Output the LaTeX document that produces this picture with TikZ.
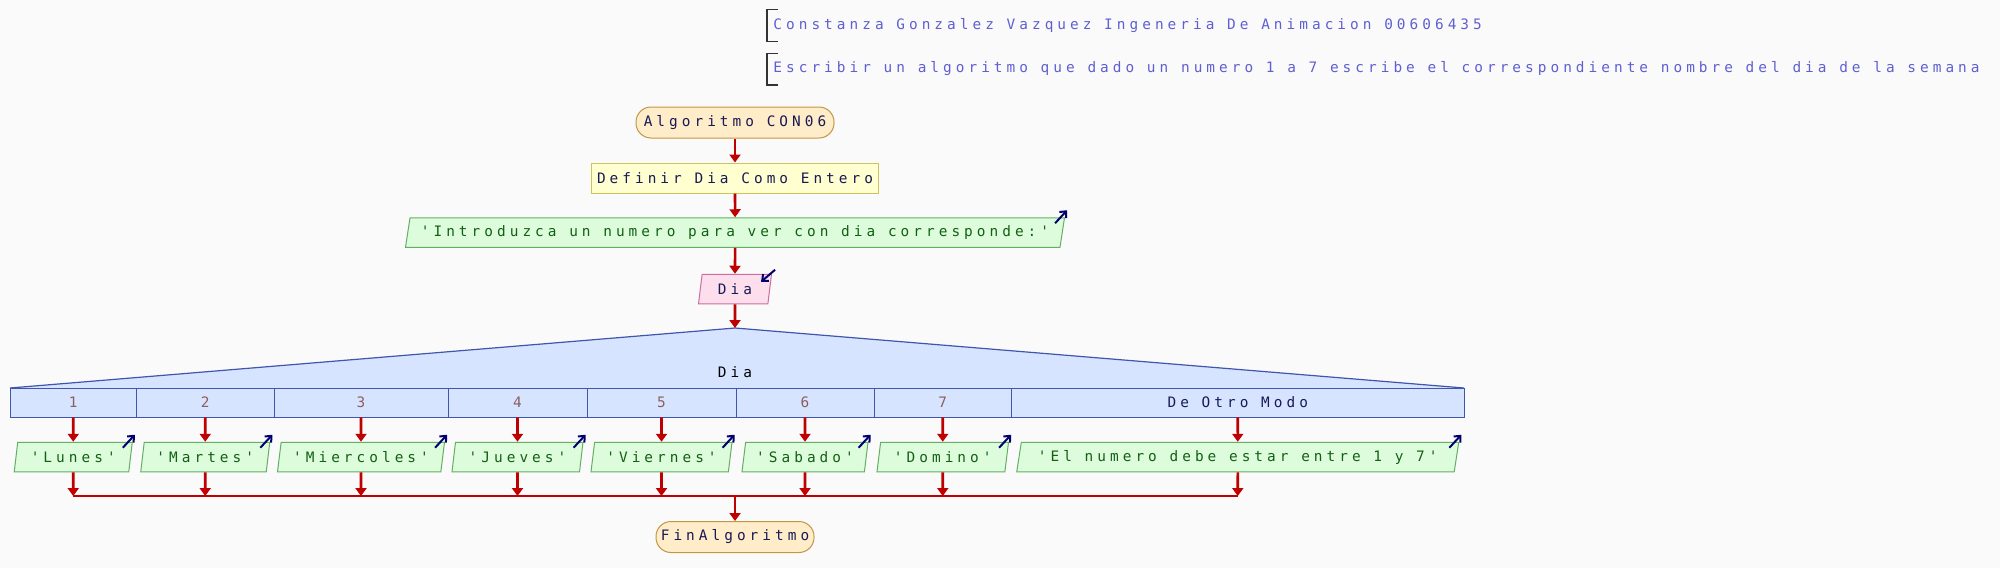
\documentclass[tikz,border=0pt]{standalone}
\usepackage{fontspec}
\newfontfamily\psfont[LetterSpace=28,Ligatures=TeXOff]{DejaVu Sans Mono}
\usetikzlibrary{shapes.geometric,arrows.meta}
\definecolor{fondo}{RGB}{250,250,250}
\definecolor{tinta}{RGB}{25,25,85}
\definecolor{rojo}{RGB}{190,0,0}
\definecolor{marino}{RGB}{0,0,110}
\definecolor{rellenoini}{RGB}{255,236,200}
\definecolor{bordeini}{RGB}{195,150,70}
\definecolor{rellenodef}{RGB}{255,255,208}
\definecolor{bordedef}{RGB}{205,195,95}
\definecolor{rellenosal}{RGB}{220,252,220}
\definecolor{bordesal}{RGB}{100,175,100}
\definecolor{textosal}{RGB}{20,95,20}
\definecolor{rellenoent}{RGB}{252,222,236}
\definecolor{bordeent}{RGB}{205,110,160}
\definecolor{rellenosegun}{RGB}{215,228,255}
\definecolor{bordesegun}{RGB}{65,85,175}
\definecolor{textoval}{RGB}{140,95,95}
\definecolor{textocom}{RGB}{95,95,210}
\begin{document}
\begin{tikzpicture}[x=0.5pt, y=-0.5pt,
    every node/.style={font=\fontsize{7.2}{9}\psfont, text=tinta, inner sep=0pt},
    flecha/.style={draw=rojo, line width=1.3pt, -{Triangle[width=5.5pt,length=4pt]}},
    marca/.style={draw=marino, line width=1pt, -{Straight Barb[length=2.5pt,width=4.5pt]}},
    inicio/.style={draw=bordeini, fill=rellenoini, line width=0.5pt, rounded corners=7.5pt, minimum height=15.5pt},
    proceso/.style={draw=bordedef, fill=rellenodef, line width=0.5pt, minimum height=15pt},
    salida/.style={trapezium, trapezium left angle=72, trapezium right angle=108, trapezium stretches body,
        draw=bordesal, fill=rellenosal, line width=0.5pt, minimum height=14.75pt, text=textosal},
    entrada/.style={salida, draw=bordeent, fill=rellenoent, text=tinta},
    celda/.style={draw=bordesegun, fill=rellenosegun, line width=0.45pt, minimum height=14.5pt},
    comentario/.style={text=textocom, anchor=west, minimum height=15.5pt, inner xsep=3pt}
]
    % Fondo y marco
    \fill[fondo] (0,0) rectangle (2000,568);
    \useasboundingbox (0,0) rectangle (2000,568);

    % Dibuja los comentarios
    \node[comentario] (com1) at (767,25.5) {Constanza Gonzalez Vazquez Ingeneria De Animacion 00606435};
    \node[comentario] (com2) at (767,69) {Escribir un algoritmo que dado un numero 1 a 7 escribe el correspondiente nombre del dia de la semana};
    \foreach \c in {com1,com2}
    \draw[line width=0.6pt, black!80] ([xshift=5.5pt]\c.north west) -- (\c.north west) -- (\c.south west) -- ([xshift=5.5pt]\c.south west);

    % Dibuja el inicio, la definicion, la salida y la lectura
    \node[inicio, minimum width=99pt] (inicio) at (735,122.5) {Algoritmo CON06};
    \node[proceso, minimum width=143.5pt] (definir) at (735,178) {Definir Dia Como Entero};
    \node[salida, minimum width=329.5pt] (mensaje) at (735,232.5) {'Introduzca un numero para ver con dia corresponde:'};
    \node[entrada, minimum width=36.5pt] (leer) at (735,289) {Dia};
    \draw[marca] ([shift={(-5pt,-3pt)}]mensaje.top right corner) -- ([shift={(1pt,3.5pt)}]mensaje.top right corner);
    \draw[marca] ([shift={(1.5pt,2pt)}]leer.top right corner) -- ([shift={(-5.5pt,-4pt)}]leer.top right corner);
    \draw[flecha] (inicio) -- (definir);
    \draw[flecha] (definir) -- (mensaje);
    \draw[flecha] (mensaje) -- (leer);

    % Dibuja el segun
    \coordinate (vertice) at (735,328);
    \fill[rellenosegun] (10,388) -- (vertice) -- (1464,388) -- cycle;
    \draw[bordesegun, line width=0.6pt] (10,388) -- (vertice) -- (1464,388);
    \node[text=black] (variable) at (735,372) {Dia};
    \draw[flecha] (leer) -- (vertice);
    \foreach \izq/\der/\val/\col [count=\i] in {10/136.5/1/textoval, 136.5/274/2/textoval, 274/448/3/textoval,
        448/587/4/textoval, 587/736/5/textoval, 736/874/6/textoval, 874/1011.5/7/textoval, 1011.5/1464/De Otro Modo/tinta}
    \node[celda, text=\col, minimum width={(\der-\izq)*0.5pt}] (c\i) at ({(\izq+\der)/2},402.5) {\val};

    % Dibuja las salidas de cada caso
    \foreach \ancho/\txt [count=\i] in {59/'Lunes', 64.5/'Martes', 83.5/'Miercoles', 65.5/'Jueves',
        70.5/'Viernes', 63/'Sabado', 65.75/'Domino', 221/'El numero debe estar entre 1 y 7'}
    {
        \node[salida, minimum width=\ancho pt] (o\i) at (c\i.center |- 0,457) {\txt};
        \draw[marca] ([shift={(-5pt,-3pt)}]o\i.top right corner) -- ([shift={(1pt,3.5pt)}]o\i.top right corner);
        \draw[flecha] (c\i) -- (o\i);
        \coordinate (j\i) at (c\i.center |- 0,496);
    }

    % Une los casos y termina
    \draw[rojo, line width=1.3pt] (j1) -- (j8);
    \foreach \i in {1,...,8}
    \draw[flecha] (o\i) -- (j\i);
    \coordinate (union) at (735,496);
    \node[inicio, minimum width=79pt] (fin) at (735,537) {FinAlgoritmo};
    \draw[flecha] (union) -- (fin);
\end{tikzpicture}
\end{document}
